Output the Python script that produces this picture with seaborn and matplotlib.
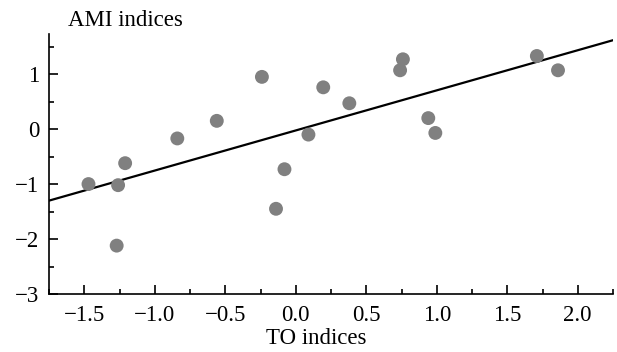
import numpy as np
import pandas as pd
import matplotlib
matplotlib.use("Agg")
import matplotlib.pyplot as plt
import seaborn as sns
from matplotlib.ticker import MultipleLocator

to_idx = [-1.47, -1.26, -1.27, -1.21, -0.84, -0.56, -0.24, -0.14, -0.08,
          0.09, 0.195, 0.38, 0.74, 0.76, 0.94, 0.99, 1.71, 1.86]
ami_idx = [-1.00, -1.02, -2.12, -0.62, -0.17, 0.15, 0.95, -1.45, -0.73,
           -0.10, 0.76, 0.47, 1.07, 1.27, 0.20, -0.07, 1.33, 1.07]
xlabel = "TO indices"
ylabel = "AMI indices"

df = pd.DataFrame({"TO": to_idx, "AMI": ami_idx})

sns.set_theme(style="ticks")
plt.rcParams["font.family"] = ["Liberation Serif", "DejaVu Serif"]

fig = plt.figure(figsize=(6.17, 3.52), dpi=100)
ax = fig.add_axes([49/617, 1-294/352, (613-49)/617, (294-34)/352])
ax.set_xlim(-1.75, 2.25)
ax.set_ylim(-3, 1.73)

sns.scatterplot(data=df, x="TO", y="AMI", ax=ax, color="#808080", s=100,
                edgecolor="none", zorder=3)
sns.regplot(data=df, x="TO", y="AMI", ax=ax, scatter=False, ci=None,
            truncate=False, line_kws={"color": "black", "lw": 1.6, "zorder": 2})
ax.set_xlim(-1.75, 2.25)
ax.set_ylim(-3, 1.73)

ax.xaxis.set_major_locator(MultipleLocator(0.5))
ax.xaxis.set_minor_locator(MultipleLocator(0.25))
ax.yaxis.set_major_locator(MultipleLocator(1))
ax.yaxis.set_minor_locator(MultipleLocator(0.5))
ax.set_xticks(np.arange(-1.5, 2.01, 0.5))
ax.set_xticklabels([f"{v:.1f}".replace("-", "\u2212") for v in np.arange(-1.5, 2.01, 0.5)])

sns.despine(ax=ax)
for sp in ["left", "bottom"]:
    ax.spines[sp].set_linewidth(1.2)
    ax.spines[sp].set_color("black")

ax.tick_params(which="major", direction="in", length=6.5, width=1.2,
               labelsize=16.5, colors="black", pad=7)
ax.tick_params(which="minor", direction="in", length=3.6, width=1.2, colors="black")
ax.tick_params(axis="x", which="major", pad=8)

ax.set_xlabel("")
ax.set_ylabel("")
fig.text(316/617, 1-338/352, xlabel, ha="center", va="center", fontsize=16.5,
         color="black")
fig.text(68/617, 1-21/352, ylabel, ha="left", va="center", fontsize=16.5,
         color="black")

fig.savefig("out.png", dpi=100)
